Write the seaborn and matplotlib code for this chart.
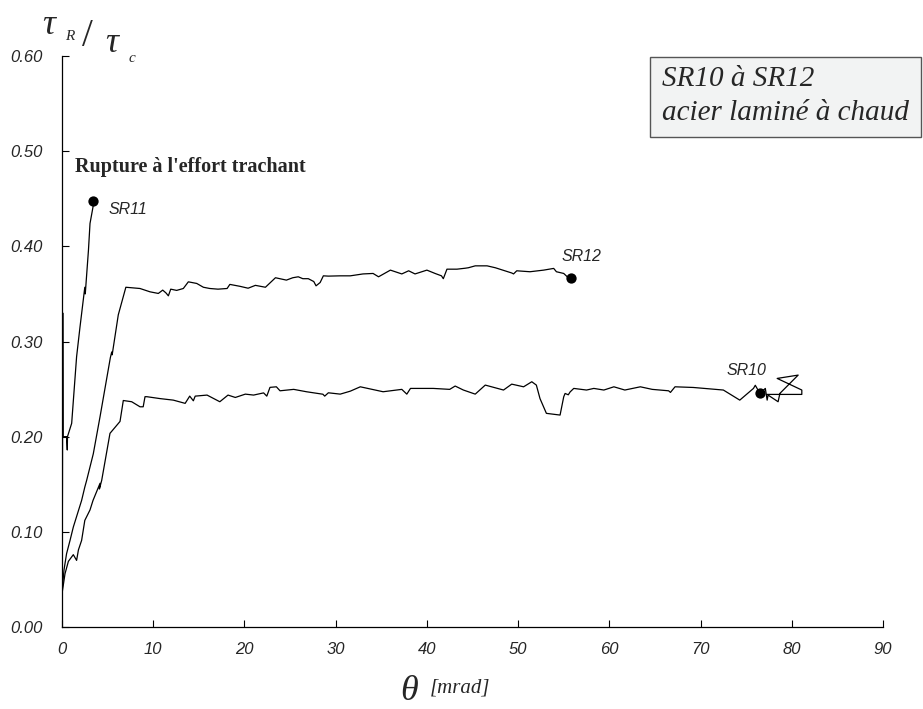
import matplotlib
matplotlib.use("Agg")
import matplotlib.pyplot as plt
from matplotlib.patches import Rectangle
import seaborn as sns
import pandas as pd

# ---------------- data ----------------
sr11_points = [(0, 0.01), (0.05, 0.15), (0.08, 0.33), (0.1, 0.27), (0.12, 0.2), (0.15, 0.2),
               (0.5, 0.2), (0.58, 0.186), (0.6, 0.2), (1.06, 0.214), (1.6, 0.284), (1.97, 0.315),
               (2.5, 0.357), (2.55, 0.35), (2.9, 0.396), (3.07, 0.424), (3.43, 0.443)]

sr12_points = [(0, 0.01), (0.03, 0.04), (0.22, 0.06), (0.5, 0.077), (0.88, 0.091), (1.24, 0.105),
               (2.15, 0.133), (2.5, 0.147), (2.7, 0.154), (3.43, 0.182), (4.17, 0.221), (5.3, 0.283),
               (5.45, 0.289), (5.5, 0.286), (6.17, 0.328), (7.0, 0.357), (8.55, 0.3557), (9.65, 0.3522),
               (10.56, 0.3505), (11.04, 0.354), (11.4, 0.351), (11.66, 0.348), (11.92, 0.355),
               (12.57, 0.3537), (13.3, 0.3557), (13.85, 0.3627), (14.77, 0.361), (15.5, 0.357),
               (16.2, 0.3557), (17.1, 0.355), (18.1, 0.3557), (18.4, 0.36), (19.5, 0.358),
               (20.4, 0.356), (21.2, 0.359), (22.3, 0.357), (23.4, 0.367), (24.6, 0.3645),
               (25.3, 0.367), (25.9, 0.368), (26.4, 0.366), (27.0, 0.366), (27.6, 0.363),
               (27.85, 0.3585), (28.3, 0.362), (28.65, 0.369), (29.2, 0.3687), (30.5, 0.369),
               (31.6, 0.369), (33.0, 0.371), (34.1, 0.3715), (34.7, 0.368), (36.0, 0.375),
               (37.25, 0.371), (38.0, 0.3743), (38.7, 0.371), (40.0, 0.375), (40.9, 0.3715),
               (41.6, 0.369), (41.8, 0.366), (42.2, 0.376), (43.3, 0.376), (44.2, 0.377),
               (44.55, 0.3775), (45.3, 0.3795), (46.6, 0.3795), (47.5, 0.3775), (49.3, 0.372),
               (49.5, 0.371), (49.85, 0.3743), (51.3, 0.3733), (52.8, 0.375), (53.9, 0.3768),
               (54.2, 0.3733), (55.0, 0.3715), (55.5, 0.367)]

sr10_points = [(0, 0.01), (0, 0.035), (0.33, 0.056), (0.7, 0.069), (1.24, 0.076), (1.6, 0.070),
               (1.8, 0.081), (2.15, 0.091), (2.5, 0.112), (3.07, 0.123), (3.4, 0.133), (4.17, 0.151),
               (4.1, 0.145), (4.35, 0.154), (5.26, 0.2035), (6.36, 0.216), (6.72, 0.238),
               (7.64, 0.2367), (8.55, 0.2314), (8.9, 0.2314), (9.1, 0.242), (9.3, 0.242),
               (10.75, 0.240), (12.2, 0.2384), (13.5, 0.235), (14.0, 0.2426), (14.4, 0.2377),
               (14.6, 0.2426), (15.9, 0.2437), (17.3, 0.2367), (18.2, 0.2437), (19.0, 0.2412),
               (20.1, 0.2447), (21.0, 0.2437), (22.1, 0.246), (22.45, 0.2426), (22.8, 0.2518),
               (23.5, 0.2524), (23.9, 0.2482), (25.4, 0.2497), (26.8, 0.2472), (28.6, 0.2446),
               (28.8, 0.2426), (29.2, 0.2461), (30.5, 0.2447), (31.6, 0.2478), (32.7, 0.2524),
               (35.2, 0.2472), (37.25, 0.2497), (37.8, 0.2447), (38.2, 0.2507), (39.6, 0.2507),
               (40.7, 0.2507), (42.5, 0.2497), (43.1, 0.2532), (44.0, 0.249), (45.3, 0.2447),
               (46.4, 0.2542), (48.4, 0.249), (49.3, 0.2552), (50.6, 0.2524), (51.5, 0.2577),
               (52.0, 0.2542), (52.4, 0.240), (53.1, 0.2245), (54.6, 0.2227), (55.0, 0.2419),
               (55.15, 0.2454), (55.5, 0.244), (55.7, 0.247), (56.1, 0.2507), (57.5, 0.249),
               (58.3, 0.2507), (59.4, 0.249), (60.5, 0.2524), (61.7, 0.249), (63.4, 0.2524),
               (64.7, 0.2497), (66.5, 0.2482), (66.7, 0.2465), (67.2, 0.2524), (69.2, 0.2517),
               (72.5, 0.249), (74.3, 0.2384), (75.8, 0.2507), (76.0, 0.254), (76.5, 0.2455),
               (77.1, 0.2507), (77.3, 0.2384), (77.4, 0.2437), (78.5, 0.2367), (78.7, 0.2455),
               (80.7, 0.2647), (78.4, 0.2612), (81.1, 0.249), (81.1, 0.2444), (77.3, 0.2444)]

series_names = ["SR11", "SR12", "SR10"]
rupture_x = [3.43, 55.8, 76.5]
rupture_y = [0.4475, 0.367, 0.246]
label_x = [5.1, 54.8, 72.8]
label_y = [0.439, 0.389, 0.270]

x_ticks = [0, 10, 20, 30, 40, 50, 60, 70, 80, 90]
y_ticks = [0.0, 0.1, 0.2, 0.3, 0.4, 0.5, 0.6]

# ---------------- style ----------------
sns.set_style("ticks")
plt.rcParams["font.family"] = ["Liberation Sans", "DejaVu Sans"]

W, H = 923, 709
fig = plt.figure(figsize=(W / 100, H / 100), dpi=100)
ax = fig.add_axes([62 / W, 1 - 627 / H, (883 - 62) / W, (627 - 56) / H])

frames = []
for name, pts in zip(series_names, [sr11_points, sr12_points, sr10_points]):
    df = pd.DataFrame(pts, columns=["theta", "tau"])
    df["serie"] = name
    frames.append(df)
data = pd.concat(frames, ignore_index=True)

for name in series_names:
    sub = data[data["serie"] == name]
    sns.lineplot(data=sub, x="theta", y="tau", sort=False, estimator=None,
                 color="black", lw=0.9, ax=ax)

ends = pd.DataFrame({"theta": rupture_x, "tau": rupture_y})
sns.scatterplot(data=ends, x="theta", y="tau", color="black", s=55,
                edgecolor="black", linewidth=0, ax=ax, zorder=5)

for name, lx, ly in zip(series_names, label_x, label_y):
    ax.text(lx, ly, name, fontsize=11.5, fontstyle="italic", va="center", ha="left")

ax.set_xlim(0, 90)
ax.set_ylim(0, 0.6)
ax.set_xticks(x_ticks)
ax.set_yticks(y_ticks)
ax.set_xticklabels([str(v) for v in x_ticks], fontstyle="italic", fontsize=12)
ax.set_yticklabels([f"{v:.2f}" for v in y_ticks], fontstyle="italic", fontsize=12)
ax.tick_params(direction="in", length=5, width=0.8, color="black",
               bottom=True, left=True, top=False, right=False)
ax.tick_params(axis="y", pad=14)
ax.tick_params(axis="x", pad=11)
ax.set_xlabel("")
ax.set_ylabel("")
for s in ["top", "right"]:
    ax.spines[s].set_visible(False)
for s in ["left", "bottom"]:
    ax.spines[s].set_color("black")
    ax.spines[s].set_linewidth(0.9)

serif = ["Liberation Serif", "DejaVu Serif"]

def fig_text(px, py, s, **kw):
    fig.text(px / W, 1 - py / H, s, **kw)

# y-axis label  tau_R / tau_c
fig_text(42, 26, "τ", fontsize=26, fontstyle="italic", family=serif, va="center", ha="left")
fig_text(65, 36, "R", fontsize=11, fontstyle="italic", family=serif, va="center", ha="left")
fig_text(82, 36, "/", fontsize=28, family=serif, va="center", ha="left")
fig_text(105, 44, "τ", fontsize=26, fontstyle="italic", family=serif, va="center", ha="left")
fig_text(129, 59, "c", fontsize=11, fontstyle="italic", family=serif, va="center", ha="left")

# x-axis label
fig_text(400, 692, "θ", fontsize=26, fontstyle="italic", family=serif, va="center", ha="left")
fig_text(430, 688, "[mrad]", fontsize=15, fontstyle="italic", family=serif, va="center", ha="left")

# annotation
fig_text(75, 167, "Rupture à l'effort trachant", fontsize=14.5, fontweight="bold",
         family=serif, va="center", ha="left")

# boxed title
fig.patches.append(Rectangle((650 / W, 1 - 137 / H), (921 - 650) / W, (137 - 57) / H,
                             transform=fig.transFigure, facecolor="#f2f3f3",
                             edgecolor="#555555", lw=1.0))
fig_text(662, 79, "SR10 à SR12", fontsize=21, fontstyle="italic", family=serif,
         va="center", ha="left")
fig_text(662, 113, "acier laminé à chaud", fontsize=21, fontstyle="italic", family=serif,
         va="center", ha="left")

fig.savefig("out.png", dpi=100, facecolor="white")
